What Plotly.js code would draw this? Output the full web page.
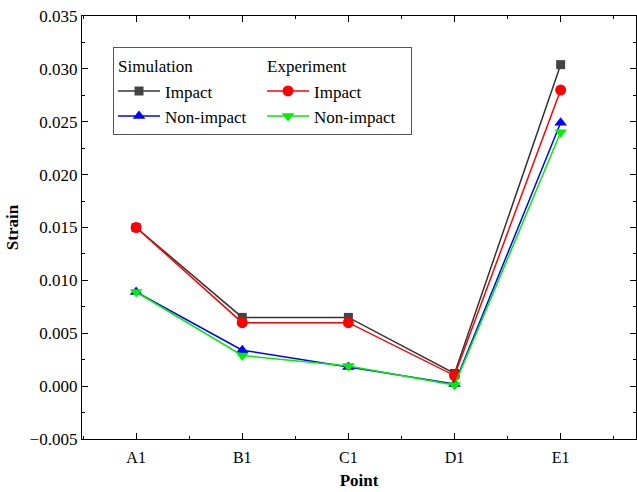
<!DOCTYPE html>
<html>
<head>
<meta charset="utf-8">
<script src="https://cdn.plot.ly/plotly-3.0.1.min.js"></script>
<style>
  html, body { margin: 0; padding: 0; background: #ffffff; }
  #chart { width: 637px; height: 492px; }
</style>
</head>
<body>
<div id="chart"></div>
<script>
// Measuring points along the specimen
const points = ["A1", "B1", "C1", "D1", "E1"];

// Strain at each point
const simImpact = [0.0150, 0.0065, 0.0065, 0.0012, 0.0304];
const simNonImpact = [0.0089, 0.0034, 0.0018, 0.0002, 0.0249];
const expImpact = [0.0150, 0.0060, 0.0060, 0.0010, 0.0280];
const expNonImpact = [0.0089, 0.0029, 0.0019, 0.0001, 0.0240];

const xIdx = points.map((_, i) => i);
const FONT = "Liberation Serif, Times New Roman, serif";

function series(name, y, group, groupTitle, color, markerColor, symbol, size) {
  return {
    x: xIdx, y: y, name: name, type: "scatter", mode: "lines+markers",
    legendgroup: group,
    legendgrouptitle: { text: groupTitle, font: { family: FONT, size: 17, color: "#000" } },
    line: { color: color, width: 1.5 },
    marker: { color: markerColor, symbol: symbol, size: size }
  };
}

const data = [
  series("Impact", simImpact, "sim", "Simulation", "#333333", "#444444", "square", 9),
  series("Non-impact", simNonImpact, "sim", "Simulation", "#0000ff", "#0000ff", "triangle-up", 11),
  series("Impact", expImpact, "exp", "Experiment", "#ff0000", "#ff0000", "circle", 11),
  series("Non-impact", expNonImpact, "exp", "Experiment", "#00ee00", "#00ee00", "triangle-down", 11)
];

const layout = {
  width: 637, height: 492,
  margin: { l: 82, r: 1, t: 16, b: 53 },
  paper_bgcolor: "#ffffff", plot_bgcolor: "#ffffff",
  font: { family: FONT, size: 16, color: "#000" },
  showlegend: true,
  legend: {
    x: 0.056, y: 0.926, xanchor: "left", yanchor: "top",
    orientation: "h", traceorder: "grouped",
    bordercolor: "#555555", borderwidth: 1, bgcolor: "#ffffff",
    font: { family: FONT, size: 17, color: "#000" },
    itemwidth: 42, tracegroupgap: 0,
    entrywidth: 92, entrywidthmode: "pixels"
  },
  xaxis: {
    range: [-0.51, 4.71],
    tickmode: "array", tickvals: xIdx, ticktext: points,
    ticks: "inside", ticklen: 6, tickwidth: 1, tickcolor: "#000",
    minor: { dtick: 0.5, tick0: 0, ticks: "inside", ticklen: 3, tickcolor: "#000", tickwidth: 1 },
    showline: true, linecolor: "#000", linewidth: 1.2, mirror: "ticks",
    showgrid: false, zeroline: false,
    ticklabelstandoff: 4,
    tickfont: { family: FONT, size: 16 },
    title: { text: "<b>Point</b>", font: { family: FONT, size: 17 }, standoff: 8 }
  },
  yaxis: {
    range: [-0.005, 0.035],
    dtick: 0.005, tick0: 0, tickformat: ".3f",
    ticks: "inside", ticklen: 6, tickwidth: 1, tickcolor: "#000",
    minor: { dtick: 0.0025, ticks: "inside", ticklen: 3, tickcolor: "#000", tickwidth: 1 },
    showline: true, linecolor: "#000", linewidth: 1.2, mirror: "ticks",
    showgrid: false, zeroline: false,
    tickfont: { family: FONT, size: 17 },
    title: { text: "<b>Strain</b>", font: { family: FONT, size: 17 }, standoff: 6 }
  }
};

Plotly.newPlot("chart", data, layout, { displayModeBar: false, staticPlot: true });
</script>
</body>
</html>
